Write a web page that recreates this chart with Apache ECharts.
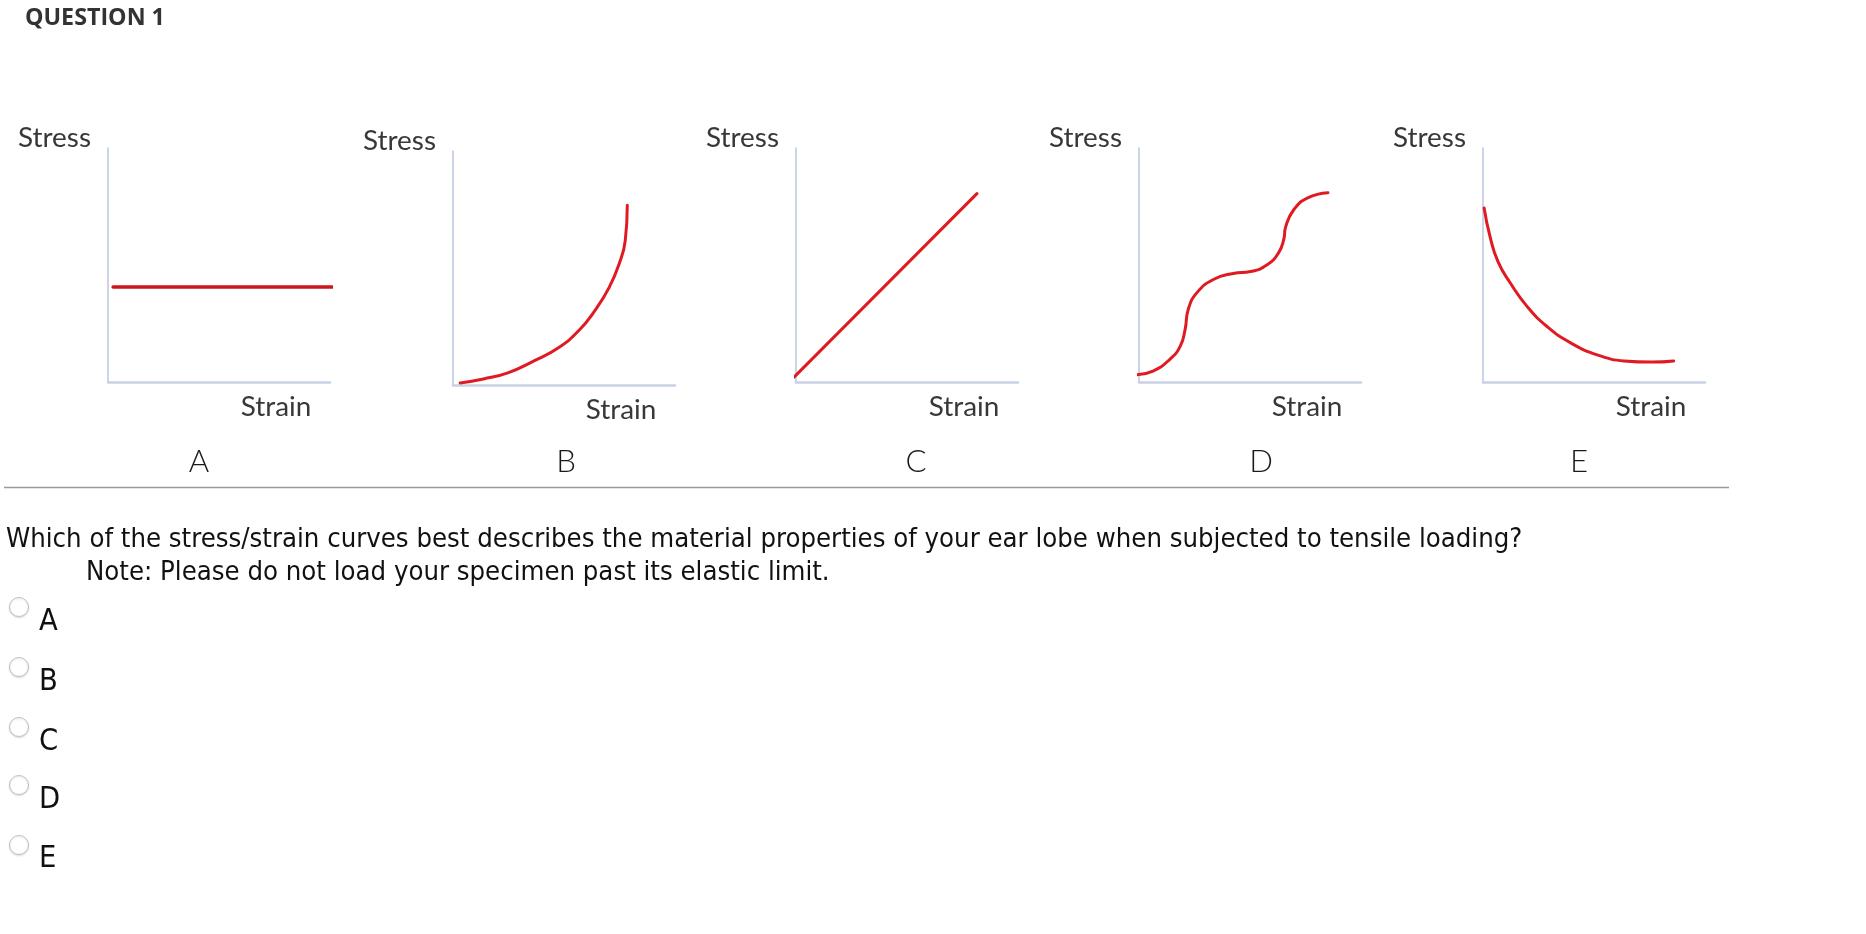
<!DOCTYPE html>
<html>
<head>
<meta charset="utf-8">
<title>Question 1</title>
<script src="https://cdn.jsdelivr.net/npm/echarts@6/dist/echarts.min.js"></script>
<style>
html, body { margin: 0; padding: 0; background: #fff; }
#main { width: 1866px; height: 934px; }
</style>
</head>
<body>
<div id="main"></div>
<script>
// data (axis box = 0..100 on both axes)
const panelNames = ['A', 'B', 'C', 'D', 'E']
const curveA = [[2.3, 40.6], [103, 40.6]]
const curveB = [[3.2, 0.9], [13.7, 2.6], [24.7, 5.2], [36.5, 10.3], [47.5, 15.9], [56.6, 23.2],
    [63.9, 31.8], [70.3, 41.6], [74.9, 51.9], [77.6, 61.8], [78.5, 76.8]]
const curveC = [[-1, 2], [81.5, 80.5]]
const curveD = [[-2.3, 3.0], [6.3, 4.7], [14.0, 9.8], [18.6, 15.3], [20.8, 22.6], [22.2, 31.1],
    [26.2, 38.3], [33.5, 43.8], [42.5, 46.4], [50.2, 47.2], [57.9, 50.2], [62.9, 55.3],
    [65.2, 60.9], [66.1, 66.4], [69.7, 73.6], [76.0, 78.7], [85.1, 80.9]]
const curveE = [[0.5, 74.4], [3.2, 62.0], [6.8, 51.3], [12.3, 42.3], [20.0, 32.1], [29.1, 23.5],
    [39.5, 16.7], [51.8, 11.5], [63.6, 9.0], [75.9, 8.5], [85.9, 9.0]]
const curves = [curveA, curveB, curveC, curveD, curveE]
const yLabel = 'Stress'
const xLabel = 'Strain'
const title = 'QUESTION 1'
const question = 'Which of the stress/strain curves best describes the material properties of your ear lobe when subjected to tensile loading?'
const note = 'Note: Please do not load your specimen past its elastic limit.'
const choices = ['A', 'B', 'C', 'D', 'E']

// layout
const panelLeft = [108, 453, 796, 1139, 1483]
const panelTop = [148, 151, 148, 148, 148]
const panelW = 222
const panelH = 234
const letterX = [199, 566, 916, 1261, 1579]

const qFont = "'DejaVu Sans Condensed', 'DejaVu Sans', sans-serif"
const gFont = "Lato, 'Open Sans', sans-serif"

// font size that makes text this wide
function fitSize(text, family, weight, target) {
    const ctx = document.createElement('canvas').getContext('2d')
    ctx.font = weight + ' 100px ' + family
    return 100 * target / ctx.measureText(text).width
}

const qSize = fitSize(question, qFont, 'normal', 1517)
const titleSize = fitSize(title, "'Open Sans', sans-serif", 'bold', 140)
const stressSize = fitSize(yLabel, gFont, 'normal', 73)

function text(str, x, baseline, size, opts) {
    opts = opts || {}
    return {
        type: 'text',
        x: x,
        y: baseline - size * 0.36,
        style: {
            text: str,
            fontSize: size,
            fontFamily: opts.family || qFont,
            fontWeight: opts.weight || 'normal',
            fill: opts.color || '#111',
            align: opts.align || 'left',
            verticalAlign: 'middle'
        }
    }
}

const graphics = []
graphics.push(text(title, 25, 27, titleSize, { family: "'Open Sans', sans-serif", weight: 'bold', color: '#333' }))
panelNames.forEach((name, i) => {
    const l = panelLeft[i]
    const t = panelTop[i]
    graphics.push(text(yLabel, l - 17, t, stressSize, { family: gFont, color: '#383838', align: 'right' }))
    graphics.push(text(xLabel, l + 168, t + 269, stressSize, { family: gFont, color: '#383838', align: 'center' }))
    graphics.push(text(name, letterX[i], 473, stressSize * 1.12, { family: gFont, weight: 300, color: '#1a1a1a', align: 'center' }))
})
graphics.push({
    type: 'line',
    shape: { x1: 4, y1: 487.5, x2: 1729, y2: 487.5 },
    style: { stroke: '#9a9a9a', lineWidth: 1.5 }
})
graphics.push(text(question, 6, 550, qSize))
graphics.push(text(note, 86, 583, qSize))
const circleY = [607, 667, 727, 785, 845]
const choiceBase = [633, 693, 753, 811, 870]
choices.forEach((c, i) => {
    graphics.push({
        type: 'circle',
        shape: { cx: 19, cy: circleY[i], r: 9.5 },
        style: { fill: '#fff', stroke: '#c2c2c2', lineWidth: 1, shadowBlur: 2, shadowColor: 'rgba(0,0,0,0.12)', shadowOffsetY: 1 }
    })
    graphics.push(text(c, 39, choiceBase[i], qSize * 1.12))
})

const grids = [], xAxes = [], yAxes = [], series = []
panelNames.forEach((name, i) => {
    grids.push({ left: panelLeft[i], top: panelTop[i], width: panelW, height: panelH })
    xAxes.push({
        type: 'value', gridIndex: i, min: 0, max: 100,
        axisLine: { show: true, lineStyle: { color: '#c8d1e6', width: 2.5 } },
        axisTick: { show: false }, axisLabel: { show: false }, splitLine: { show: false }
    })
    yAxes.push({
        type: 'value', gridIndex: i, min: 0, max: 100,
        axisLine: { show: true, lineStyle: { color: '#bac6e4', width: 1.5 } },
        axisTick: { show: false }, axisLabel: { show: false }, splitLine: { show: false }
    })
    series.push({
        name: name,
        type: 'line',
        xAxisIndex: i,
        yAxisIndex: i,
        data: curves[i],
        smooth: curves[i].length > 2 ? 0.5 : false,
        showSymbol: false,
        clip: false,
        z: 5,
        lineStyle: { color: i === 0 ? '#cc161d' : '#e01a22', width: i === 0 ? 3.5 : 3, cap: 'round', join: 'round' }
    })
})

const chart = echarts.init(document.getElementById('main'))
chart.setOption({
    backgroundColor: '#fff',
    animation: false,
    grid: grids,
    xAxis: xAxes,
    yAxis: yAxes,
    series: series,
    graphic: graphics
})
</script>
</body>
</html>
